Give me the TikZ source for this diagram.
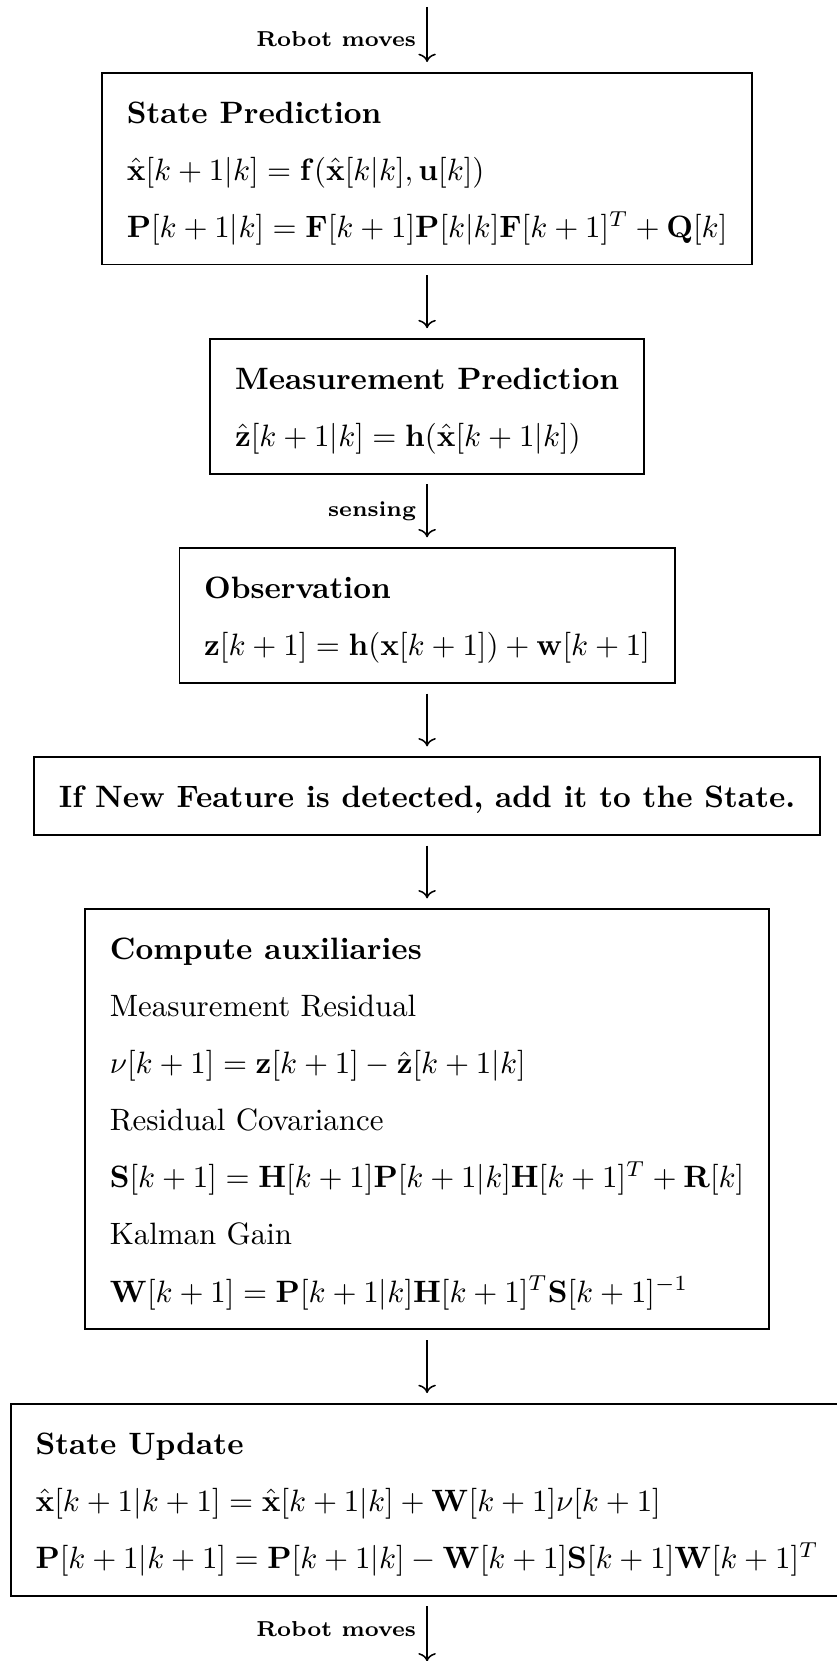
\documentclass[tikz,border=0pt]{standalone}
\usetikzlibrary{arrows.meta,positioning}
\renewcommand{\arraystretch}{1.54}

\begin{document}
\begin{tikzpicture}[x=1cm,y=1cm,>=To,line width=.5pt,every node/.style={font=\rmfamily\normalsize},stage/.style={draw,line width=.6pt,inner xsep=8pt,inner ysep=3.3pt},flow/.style={->,shorten >=3.2pt,shorten <=3.2pt},cue/.style={left,font=\rmfamily\scriptsize\bfseries}]
\path[use as bounding box] (0,0) rectangle (9.51,18.89);

\coordinate (start) at (4.857,18.81);

\node[stage,below=21pt of start] (predict) {\begin{tabular}{@{}l@{}}
\textbf{State Prediction}\\
$\hat{\mathbf{x}}[k+1|k]=\mathbf{f}(\hat{\mathbf{x}}[k|k],\mathbf{u}[k])$\\
$\mathbf{P}[k+1|k]=\mathbf{F}[k+1]\mathbf{P}[k|k]\mathbf{F}[k+1]^T+\mathbf{Q}[k]$
\end{tabular}};

\node[stage,below=23.5pt of predict] (measpred) {\begin{tabular}{@{}l@{}}
\textbf{Measurement Prediction}\\
$\hat{\mathbf{z}}[k+1|k]=\mathbf{h}(\hat{\mathbf{x}}[k+1|k])$
\end{tabular}};

\node[stage,below=23.5pt of measpred] (observe) {\begin{tabular}{@{}l@{}}
\textbf{Observation}\\
$\mathbf{z}[k+1]=\mathbf{h}(\mathbf{x}[k+1])+\mathbf{w}[k+1]$
\end{tabular}};

\node[stage,below=23.5pt of observe] (newfeat) {\begin{tabular}{@{}l@{}}
\textbf{If New Feature is detected, add it to the State.}
\end{tabular}};

\node[stage,below=23.5pt of newfeat] (aux) {\begin{tabular}{@{}l@{}}
\textbf{Compute auxiliaries}\\
Measurement Residual\\
$\nu[k+1]=\mathbf{z}[k+1]-\hat{\mathbf{z}}[k+1|k]$\\
Residual Covariance\\
$\mathbf{S}[k+1]=\mathbf{H}[k+1]\mathbf{P}[k+1|k]\mathbf{H}[k+1]^T+\mathbf{R}[k]$\\
Kalman Gain\\
$\mathbf{W}[k+1]=\mathbf{P}[k+1|k]\mathbf{H}[k+1]^T\mathbf{S}[k+1]^{-1}$
\end{tabular}};

\node[stage,below=23.5pt of aux] (update) {\begin{tabular}{@{}l@{}}
\textbf{State Update}\\
$\hat{\mathbf{x}}[k+1|k+1]=\hat{\mathbf{x}}[k+1|k]+\mathbf{W}[k+1]\nu[k+1]$\\
$\mathbf{P}[k+1|k+1]=\mathbf{P}[k+1|k]-\mathbf{W}[k+1]\mathbf{S}[k+1]\mathbf{W}[k+1]^T$
\end{tabular}};

\coordinate[below=21pt of update] (finish);

% connectors
\draw[flow,shorten <=0pt] (start) -- node[cue] {Robot moves} (predict);
\draw[flow] (predict) -- (measpred);
\draw[flow] (measpred) -- node[cue] {sensing} (observe);
\draw[flow] (observe) -- (newfeat);
\draw[flow] (newfeat) -- (aux);
\draw[flow] (aux) -- (update);
\draw[flow,shorten >=0pt] (update) -- node[cue] {Robot moves} (finish);

\end{tikzpicture}
\end{document}
